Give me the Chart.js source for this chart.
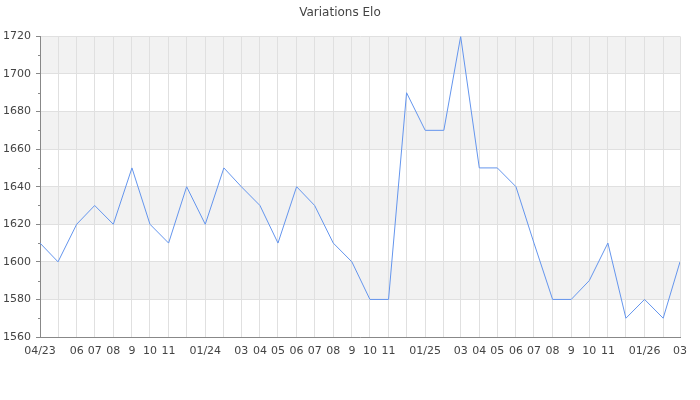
<!DOCTYPE html>
<html>
<head>
<meta charset="utf-8">
<title>Variations Elo</title>
<script src="https://cdn.jsdelivr.net/npm/chart.js@4.4.1/dist/chart.umd.min.js"></script>
<style>
  html, body { margin: 0; padding: 0; background: #fff; }
</style>
</head>
<body>
<canvas id="eloChart" width="700" height="400"></canvas>
<script>
// monthly elo values, 04/2023 -> 03/2026
var months = [
  '2023-04', '2023-05', '2023-06', '2023-07', '2023-08', '2023-09', '2023-10', '2023-11', '2023-12',
  '2024-01', '2024-02', '2024-03', '2024-04', '2024-05', '2024-06', '2024-07', '2024-08', '2024-09', '2024-10', '2024-11', '2024-12',
  '2025-01', '2025-02', '2025-03', '2025-04', '2025-05', '2025-06', '2025-07', '2025-08', '2025-09', '2025-10', '2025-11', '2025-12',
  '2026-01', '2026-02', '2026-03'
];
var elo = [
  1610, 1600, 1620, 1630, 1620, 1650, 1620, 1610, 1640,
  1620, 1650, 1640, 1630, 1610, 1640, 1630, 1610, 1600, 1580, 1580, 1690,
  1670, 1670, 1720, 1650, 1650, 1640, 1610, 1580, 1580, 1590, 1610, 1570,
  1580, 1570, 1600
];
var tickLabels = [
  '04/23', '', '06', '07', '08', '9', '10', '11', '',
  '01/24', '', '03', '04', '05', '06', '07', '08', '9', '10', '11', '',
  '01/25', '', '03', '04', '05', '06', '07', '08', '9', '10', '11', '',
  '01/26', '', '03'
];
var yTicks = [1560, 1580, 1600, 1620, 1640, 1660, 1680, 1700, 1720];

// day offsets so the spacing follows month lengths (time axis)
function dayOf(m) {
  var p = m.split('-');
  return Date.UTC(+p[0], +p[1] - 1, 1) / 86400000;
}
var start = dayOf(months[0]);
var xs = months.map(function(m) { return dayOf(m) - start; });
var points = xs.map(function(x, i) { return { x: x, y: elo[i] }; });

var font = { family: 'DejaVu Sans', size: 11 };

// alternating grey bands + small minor ticks on the y axis
var bandsPlugin = {
  id: 'bands',
  beforeDraw: function(chart) {
    var ctx = chart.ctx, area = chart.chartArea, y = chart.scales.y;
    ctx.save();
    ctx.fillStyle = '#f2f2f2';
    for (var i = 0; i < yTicks.length - 1; i++) {
      if (i % 2 === 1) {
        var top = y.getPixelForValue(yTicks[i + 1]);
        var bot = y.getPixelForValue(yTicks[i]);
        ctx.fillRect(area.left, top, area.right - area.left, bot - top);
      }
    }
    ctx.restore();
  },
  afterDraw: function(chart) {
    var ctx = chart.ctx, area = chart.chartArea, y = chart.scales.y;
    ctx.save();
    ctx.strokeStyle = '#888';
    ctx.lineWidth = 1;
    for (var i = 0; i < yTicks.length - 1; i++) {
      var py = Math.round(y.getPixelForValue((yTicks[i] + yTicks[i + 1]) / 2)) + 0.5;
      ctx.beginPath();
      ctx.moveTo(area.left - 2, py);
      ctx.lineTo(area.left, py);
      ctx.stroke();
    }
    ctx.restore();
  }
};

new Chart(document.getElementById('eloChart').getContext('2d'), {
  type: 'line',
  data: {
    datasets: [{
      data: points,
      borderColor: '#6495ed',
      borderWidth: 1,
      pointRadius: 0,
      tension: 0,
      fill: false
    }]
  },
  options: {
    responsive: false,
    animation: false,
    layout: { padding: { left: 0, right: 20, bottom: 33, top: 0 } },
    plugins: {
      legend: { display: false },
      tooltip: { enabled: false },
      title: {
        display: true,
        text: 'Variations Elo',
        color: '#444',
        font: { family: 'DejaVu Sans', size: 12, weight: 'normal' },
        padding: { top: 6, bottom: 16 }
      }
    },
    scales: {
      x: {
        type: 'linear',
        min: xs[0],
        max: xs[xs.length - 1],
        afterBuildTicks: function(scale) {
          scale.ticks = xs.map(function(v) { return { value: v }; });
        },
        afterFit: function(scale) { scale.height = 30; },
        ticks: {
          autoSkip: false,
          maxRotation: 0,
          minRotation: 0,
          padding: 8,
          color: '#444',
          font: font,
          callback: function(value, index) { return tickLabels[index]; }
        },
        grid: { color: '#e0e0e0', drawTicks: false },
        border: { color: '#888' }
      },
      y: {
        min: yTicks[0],
        max: yTicks[yTicks.length - 1],
        afterBuildTicks: function(scale) {
          scale.ticks = yTicks.map(function(v) { return { value: v }; });
        },
        afterFit: function(scale) { scale.width = 40; },
        ticks: {
          color: '#444',
          font: font,
          padding: 5,
          callback: function(value) { return String(value); }
        },
        grid: { color: '#e0e0e0', tickColor: '#888', tickLength: 4 },
        border: { color: '#888' }
      }
    }
  },
  plugins: [bandsPlugin]
});
</script>
</body>
</html>
